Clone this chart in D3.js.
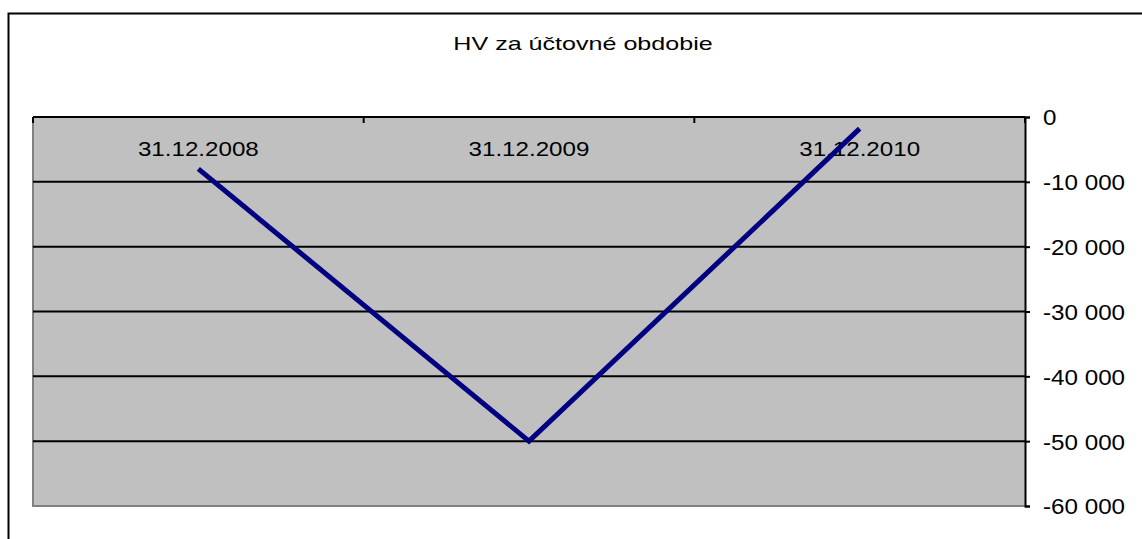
<!DOCTYPE html>
<html>
<head>
<meta charset="utf-8">
<script src="https://cdn.jsdelivr.net/npm/d3@7"></script>
<style>
  html, body { margin: 0; padding: 0; background: #fff; }
  svg { display: block; font-family: "Liberation Sans", Arial, sans-serif; }
</style>
</head>
<body>
<div id="chartContainer"></div>
<script>
// chart data
var title = "HV za účtovné obdobie";
var categories = ["31.12.2008", "31.12.2009", "31.12.2010"];
var values = [-8000, -50000, -1800];
var yTicks = [0, -10000, -20000, -30000, -40000, -50000, -60000];

function init() {
    var w = 1142;
    var h = 539;
    var plot = { left: 33, right: 1025, top: 117, bottom: 506 };

    var svg = d3.select("#chartContainer")
                .append("svg")
                .attr("width", w)
                .attr("height", h);

    // outer chart border (runs off the page on right and bottom)
    svg.append("rect")
       .attr("x", 8.5).attr("y", 13.5)
       .attr("width", w + 20).attr("height", h + 20)
       .attr("fill", "#fff")
       .attr("stroke", "#000")
       .attr("stroke-width", 2);

    var x = d3.scaleBand()
              .domain(categories)
              .range([plot.left, plot.right]);

    var y = d3.scaleLinear()
              .domain([-60000, 0])
              .range([plot.bottom, plot.top]);

    // plot background
    svg.append("rect")
       .attr("x", plot.left).attr("y", plot.top)
       .attr("width", plot.right - plot.left)
       .attr("height", plot.bottom - plot.top)
       .attr("fill", "#c0c0c0");

    // left and bottom frame edges (grey)
    svg.append("path")
       .attr("d", "M" + plot.left + "," + plot.top + "V" + plot.bottom + "H" + plot.right)
       .attr("fill", "none")
       .attr("stroke", "#808080")
       .attr("stroke-width", 2);

    // horizontal gridlines
    svg.selectAll("line.grid")
       .data(yTicks.filter(d => d !== 0 && d !== -60000))
       .enter()
       .append("line")
       .attr("class", "grid")
       .attr("x1", plot.left).attr("x2", plot.right)
       .attr("y1", d => y(d)).attr("y2", d => y(d))
       .attr("stroke", "#000")
       .attr("stroke-width", 2);

    // y axis on the right
    var loc = d3.formatLocale({ decimal: ",", thousands: " ", grouping: [3], currency: ["", ""], minus: "-" });
    var fmt = loc.format(",d");
    var yAxis = svg.append("g")
       .attr("transform", "translate(" + plot.right + ",0)")
       .call(d3.axisRight(y).tickValues(yTicks).tickFormat(fmt).tickSize(5).tickPadding(13));
    yAxis.select(".domain").attr("stroke", "#000").attr("stroke-width", 2);
    yAxis.selectAll(".tick line").attr("stroke", "#000").attr("stroke-width", 2);
    yAxis.selectAll(".tick text")
         .attr("fill", "#000")
         .style("font-size", "22px")
         .style("font-family", "'Liberation Sans', Arial, sans-serif")
         .attr("dy", "0.36em")
         .each(function() {
             var len = this.getComputedTextLength();
             d3.select(this).attr("textLength", len * 1.1).attr("lengthAdjust", "spacingAndGlyphs");
         });

    // category axis along the zero line (top)
    svg.append("line")
       .attr("x1", plot.left).attr("x2", plot.right)
       .attr("y1", y(0)).attr("y2", y(0))
       .attr("stroke", "#000")
       .attr("stroke-width", 2);

    var bounds = categories.map(d => x(d)).concat([x.range()[1]]);
    svg.selectAll("line.xtick")
       .data(bounds)
       .enter()
       .append("line")
       .attr("class", "xtick")
       .attr("x1", d => d).attr("x2", d => d)
       .attr("y1", y(0)).attr("y2", y(0) + 6)
       .attr("stroke", "#000")
       .attr("stroke-width", 2);

    svg.selectAll("text.xlabel")
       .data(categories)
       .enter()
       .append("text")
       .attr("class", "xlabel")
       .attr("x", d => x(d) + x.bandwidth() / 2)
       .attr("y", y(0) + 39)
       .attr("text-anchor", "middle")
       .style("font-size", "21px")
       .text(d => d)
       .each(function() {
           var len = this.getComputedTextLength();
           d3.select(this).attr("textLength", len * 1.15).attr("lengthAdjust", "spacingAndGlyphs");
       });

    // data line
    var line = d3.line()
                 .x((d, i) => x(categories[i]) + x.bandwidth() / 2)
                 .y(d => y(d));

    svg.append("path")
       .datum(values)
       .attr("d", line)
       .attr("fill", "none")
       .attr("stroke", "#000080")
       .attr("stroke-width", 5)
       .attr("stroke-linejoin", "miter");

    // title
    svg.append("text")
       .attr("x", 583)
       .attr("y", 50)
       .attr("text-anchor", "middle")
       .style("font-size", "19px")
       .text(title)
       .each(function() {
           var len = this.getComputedTextLength();
           d3.select(this).attr("textLength", len * 1.32).attr("lengthAdjust", "spacingAndGlyphs");
       });
}

window.onload = init;
</script>
</body>
</html>
